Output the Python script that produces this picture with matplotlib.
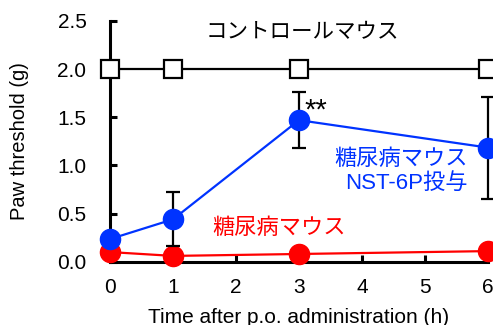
import matplotlib.pyplot as plt

plt.rcParams['font.family'] = ['Liberation Sans', 'Noto Sans CJK JP']

# paw withdrawal threshold over time (g)
times = [0, 1, 3, 6]
control = [2.0, 2.0, 2.0, 2.0]
diabetic = [0.10, 0.06, 0.08, 0.11]
treated = [0.235, 0.44, 1.47, 1.185]
treated_err = [0.0, 0.28, 0.29, 0.53]

xticks = [0, 1, 2, 3, 4, 5, 6]
yticks = [0.0, 0.5, 1.0, 1.5, 2.0, 2.5]

fig = plt.figure(figsize=(4.93, 3.25), dpi=100)
ax = fig.add_axes([0.2231, 0.1948, 0.7667, 0.7406])

ax.plot(times, control, color='black', lw=1.6, marker='s', ms=13,
        mfc='white', mec='black', mew=1.6, clip_on=False, zorder=3)
ax.plot(times, diabetic, color='red', lw=1.6, marker='o', ms=14.5,
        mec='red', clip_on=False, zorder=4)
ax.errorbar(times, treated, yerr=treated_err, color='#0033ff', lw=1.6,
            ecolor='black', elinewidth=1.6, capsize=5, capthick=1.6,
            marker='o', ms=14.5, clip_on=False, zorder=5)

ax.text(3.06, 2.38, 'コントロールマウス', ha='center', va='center', fontsize=15.5)
ax.text(2.68, 0.34, '糖尿病マウス', ha='center', va='center',
        fontsize=16, color='red')
ax.text(5.68, 0.94, '糖尿病マウス\nNST-6P投与', ha='right', va='center',
        fontsize=16, color='#0033ff', linespacing=1.2)
ax.text(3.08, 1.42, '**', ha='left', va='bottom', fontsize=21)

ax.set_xlim(0, 6)
ax.set_ylim(0, 2.5)
ax.set_xticks(xticks)
ax.set_yticks(yticks)
ax.set_yticklabels([f'{v:.1f}' for v in yticks])
ax.spines['top'].set_visible(False)
ax.spines['right'].set_visible(False)
for s in ('left', 'bottom'):
    ax.spines[s].set_linewidth(2.2)
ax.tick_params(direction='in', length=5, width=2.2, labelsize=15)
ax.tick_params(axis='y', pad=17)
ax.tick_params(axis='x', pad=12)
ax.set_xlabel('Time after p.o. administration (h)', fontsize=15, labelpad=8)
ax.set_ylabel('Paw threshold (g)', fontsize=14.5, labelpad=20)

fig.savefig('out.png', dpi=100)
